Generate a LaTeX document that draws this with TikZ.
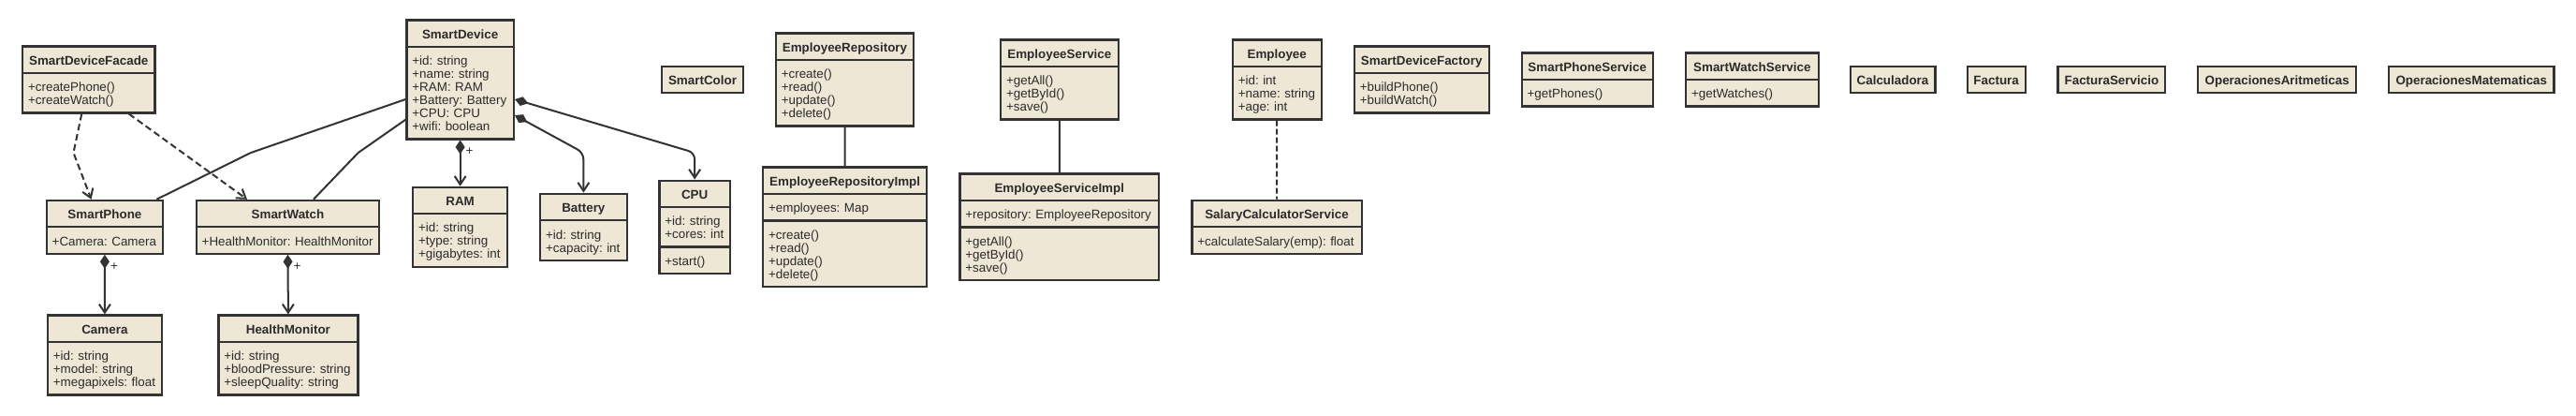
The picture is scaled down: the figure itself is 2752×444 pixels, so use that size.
\documentclass[tikz,border=0pt]{standalone}
\usepackage{fontspec}
\setmainfont{Liberation Sans}
\usetikzlibrary{shapes.multipart,arrows.meta}
\definecolor{umlfill}{HTML}{EEE7D6}
\definecolor{umlline}{HTML}{333333}
\definecolor{umltext}{HTML}{2B2B2B}
\setlength{\parindent}{0pt}
\frenchspacing
\hyphenpenalty=10000
\newcommand{\clshead}[1]{\hbox to\hsize{\hss\bfseries\rule{0pt}{13.6pt}#1\rule[-2.6pt]{0pt}{2.6pt}\hss}}
\newcommand{\clsbody}[1]{\rule{0pt}{13.6pt}#1\rule[-2.6pt]{0pt}{2.6pt}}
\tikzset{
  cls/.style={rectangle split, rectangle split parts=#1, draw=umlline, fill=umlfill, text=umltext,
    line width=2.2pt, anchor=west, inner xsep=6pt, inner ysep=5pt, align=left,
    font=\fontsize{13.4}{14}\selectfont},
  cls/.default=2,
  assoc/.style={draw=umlline, line width=2pt},
  comp/.style={assoc, {Diamond[length=15pt,width=10pt]}-{Straight Barb[length=9pt,width=12pt]}},
  dep/.style={assoc, dash pattern=on 7pt off 4pt, -{Straight Barb[length=9pt,width=12pt]}},
  plus/.style={inner sep=0pt, xshift=10pt, yshift=-12.5pt, text=umltext, font=\fontsize{13.4}{14}\selectfont},
}
\begin{document}
\fontsize{13.4}{14}\selectfont
\begin{tikzpicture}[x=1pt,y=-1pt]
\useasboundingbox (0,0) rectangle (2752,444);
\coordinate (kink) at (0,163);
% first row
\node[cls, text width=129.3pt] (Facade) at (23,85)
  {\clshead{SmartDeviceFacade}\nodepart{two}\clsbody{+createPhone()\\+createWatch()}};
\node[cls, text width=102.5pt] (SmartDevice) at (433.3,85)
  {\clshead{SmartDevice}\nodepart{two}\clsbody{+id: string\\+name: string\\+RAM: RAM\\+Battery: Battery\\+CPU: CPU\\+wifi: boolean}};
\node[cls=1, text width=74.8pt] (SmartColor) at (706,85) {\clshead{SmartColor}};
\node[cls, text width=135.4pt] (EmpRepo) at (827.7,85)
  {\clshead{EmployeeRepository}\nodepart{two}\clsbody{+create()\\+read()\\+update()\\+delete()}};
\node[cls, text width=113.5pt] (EmpService) at (1068,85)
  {\clshead{EmployeeService}\nodepart{two}\clsbody{+getAll()\\+getById()\\+save()}};
\node[cls, text width=82.8pt] (Employee) at (1315.7,85)
  {\clshead{Employee}\nodepart{two}\clsbody{+id: int\\+name: string\\+age: int}};
\node[cls, text width=131.8pt] (Factory) at (1445.7,85)
  {\clshead{SmartDeviceFactory}\nodepart{two}\clsbody{+buildPhone()\\+buildWatch()}};
\node[cls, text width=128.3pt] (PhoneService) at (1624.5,85)
  {\clshead{SmartPhoneService}\nodepart{two}\clsbody{+getPhones()}};
\node[cls, text width=129.5pt] (WatchService) at (1800,85)
  {\clshead{SmartWatchService}\nodepart{two}\clsbody{+getWatches()}};
\node[cls=1, text width=78.8pt] (Calculadora) at (1975.5,85) {\clshead{Calculadora}};
\node[cls=1, text width=50.1pt] (Factura) at (2100.5,85) {\clshead{Factura}};
\node[cls=1, text width=102.8pt] (FacturaServicio) at (2197.4,85) {\clshead{FacturaServicio}};
\node[cls=1, text width=157.2pt] (OpArit) at (2347,85) {\clshead{OperacionesAritmeticas}};
\node[cls=1, text width=164.4pt] (OpMat) at (2551,85) {\clshead{OperacionesMatematicas}};
% second row
\node[cls, text width=112.5pt] (SmartPhone) at (48.6,242.3)
  {\clshead{SmartPhone}\nodepart{two}\clsbody{+Camera: Camera}};
\node[cls, text width=183.6pt] (SmartWatch) at (208.6,242.3)
  {\clshead{SmartWatch}\nodepart{two}\clsbody{+HealthMonitor: HealthMonitor}};
\node[cls, text width=89.1pt] (RAM) at (440,242.3)
  {\clshead{RAM}\nodepart{two}\clsbody{+id: string\\+type: string\\+gigabytes: int}};
\node[cls, text width=80.5pt] (Battery) at (576,242.3)
  {\clshead{Battery}\nodepart{two}\clsbody{+id: string\\+capacity: int}};
\node[cls=3, text width=63.5pt] (CPU) at (703.3,242.3)
  {\clshead{CPU}\nodepart{two}\clsbody{+id: string\\+cores: int}\nodepart{three}\clsbody{+start()}};
\node[cls=3, text width=163.1pt] (EmpRepoImpl) at (814,242.3)
  {\clshead{EmployeeRepositoryImpl}\nodepart{two}\clsbody{+employees: Map}\nodepart{three}\clsbody{+create()\\+read()\\+update()\\+delete()}};
\node[cls=3, text width=200.8pt] (EmpServiceImpl) at (1024.3,242.3)
  {\clshead{EmployeeServiceImpl}\nodepart{two}\clsbody{+repository: EmployeeRepository}\nodepart{three}\clsbody{+getAll()\\+getById()\\+save()}};
\node[cls, text width=169.2pt] (SalaryCalc) at (1272.3,242.3)
  {\clshead{SalaryCalculatorService}\nodepart{two}\clsbody{+calculateSalary(emp): float}};
% third row
\node[cls, text width=110pt] (Camera) at (49.8,379)
  {\clshead{Camera}\nodepart{two}\clsbody{+id: string\\+model: string\\+megapixels: float}};
\node[cls, text width=137pt] (HealthMonitor) at (232.3,379)
  {\clshead{HealthMonitor}\nodepart{two}\clsbody{+id: string\\+bloodPressure: string\\+sleepQuality: string}};
% connectors
\draw[dep] ([xshift=-7.5pt]Facade.south) -- (78.5,163) -- ([xshift=-14.4pt]SmartPhone.north);
\draw[dep] ([xshift=43pt]Facade.south) -- ([xshift=-43.5pt]SmartWatch.north);
\draw[assoc] ([yshift=-21pt]SmartDevice.west) -- (268,163) -- ([xshift=-8pt]SmartPhone.north east);
\draw[assoc] ([yshift=-42.7pt]SmartDevice.west) -- (382.7,163) -- ([xshift=27.4pt]SmartWatch.north);
\draw[comp] (SmartDevice.south) -- node[at start, plus] {+} (RAM.north);
\draw[comp, rounded corners=7pt] ([yshift=-38pt]SmartDevice.east) -- (Battery.north |- kink) -- (Battery.north);
\draw[comp, rounded corners=7pt] ([yshift=-21pt]SmartDevice.east) -- (CPU.north |- kink) -- (CPU.north);
\draw[comp] (SmartPhone.south) -- node[at start, plus] {+} (Camera.north);
\draw[comp] (SmartWatch.south) -- node[at start, plus] {+} (HealthMonitor.north);
\draw[assoc] (EmpRepo.south) -- (EmpRepoImpl.north);
\draw[assoc] (EmpService.south) -- (EmpServiceImpl.north);
\draw[assoc, dash pattern=on 6pt off 3pt] (Employee.south) -- (SalaryCalc.north);
\end{tikzpicture}
\end{document}
